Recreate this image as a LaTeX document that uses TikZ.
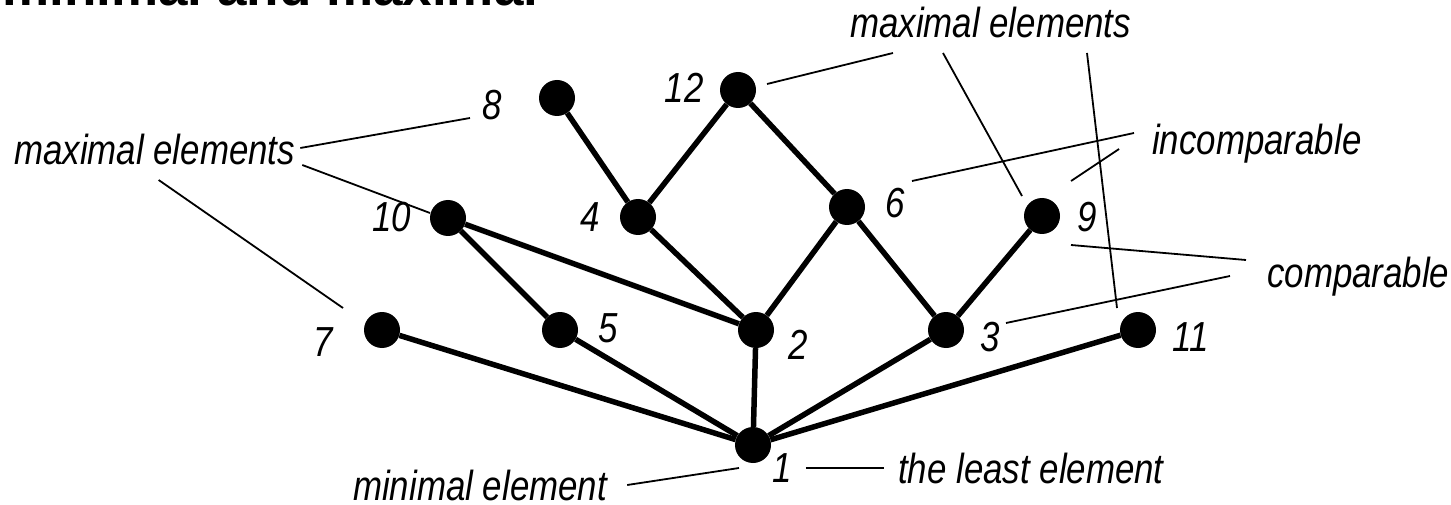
\documentclass[tikz,border=0pt]{standalone}
\usepackage{fontspec}
\setmainfont{Liberation Sans}
\newfontfamily\narrowfont{Liberation Sans}[FakeStretch=0.83]
\usetikzlibrary{positioning}

\tikzset{
  elem/.style={circle, fill=black, minimum size=36pt, inner sep=0pt},
  hasse/.style={line width=5.5pt},
  pointer/.style={line width=1.8pt},
  numlbl/.style={font=\fontsize{42}{42}\selectfont\narrowfont\itshape, inner sep=0pt},
  note/.style={font=\fontsize{42}{42}\selectfont\narrowfont\itshape, inner sep=0pt, anchor=base west},
  headline/.style={font=\fontsize{53}{53}\selectfont\bfseries, inner sep=0pt, anchor=base west}
}

\begin{document}
\begin{tikzpicture}[x=1pt, y=-1pt]
  \useasboundingbox (0,0) rectangle (1451,505);
  % title, cut off by the top edge
  \node[headline] (title) at (2,6) {minimal and maximal};

  % elements of the poset
  \node[elem] (e1) at (753,445) {};
  \node[elem] (e7) at (382,330) {};
  \node[elem] (e5) at (560,330) {};
  \node[elem] (e2) at (756,330) {};
  \node[elem] (e3) at (946,330) {};
  \node[elem] (e11) at (1138,330) {};
  \node[elem] (e10) at (448,218) {};
  \node[elem] (e4) at (638,217) {};
  \node[elem] (e6) at (847,207) {};
  \node[elem] (e9) at (1042,216) {};
  \node[elem] (e8) at (557,98) {};
  \node[elem] (e12) at (738,90) {};

  % covering relation
  \foreach \a/\b in {1/7, 1/5, 1/2, 1/3, 1/11, 2/10, 2/4, 2/6, 5/10, 4/8, 4/12, 6/12, 6/3, 3/9}
    \draw[hasse] (e\a) -- (e\b);

  % numbers
  \node[numlbl] (l1) at (782,468) {1};
  \node[numlbl] (l2) at (798,345) {2};
  \node[numlbl] (l3) at (990,337) {3};
  \node[numlbl] (l4) at (590,217) {4};
  \node[numlbl] (l5) at (608,328) {5};
  \node[numlbl] (l6) at (895,203) {6};
  \node[numlbl] (l7) at (323,342) {7};
  \node[numlbl] (l8) at (492,105) {8};
  \node[numlbl] (l9) at (1087,217) {9};
  \node[numlbl] (l10) at (392,217) {10};
  \node[numlbl] (l11) at (1191,337) {11};
  \node[numlbl] (l12) at (684,88) {12};

  % notes
  \node[note] (maxl) at (14,165) {maximal elements};
  \node[note] (maxt) at (850,38) {maximal elements};
  \node[note] (incomp) at (1152,155) {incomparable};
  \node[note] (comp) at (1267,287) {comparable};
  \node[note] (minel) at (353,500) {minimal element};
  \node[note] (least) at (898,483) {the least element};

  % ends of the pointers
  \coordinate (to8) at (470,118);
  \coordinate (to10) at (430,213);
  \coordinate (to7) at (343,308);
  \coordinate (to12) at (767,84);
  \coordinate (to9a) at (1022,196);
  \coordinate (to11) at (1117,308);
  \coordinate (to6) at (912,181);
  \coordinate (to9b) at (1071,181);
  \coordinate (to9c) at (1071,245);
  \coordinate (to3) at (1006,323);
  \coordinate (to1) at (739,468);

  \draw[pointer] ([shift={(5,-17)}]maxl.base east) -- (to8);
  \draw[pointer] ([shift={(7,0)}]maxl.base east) -- (to10);
  \draw[pointer] ([shift={(4,15)}]maxl.base) -- (to7);
  \draw[pointer] ([shift={(43,15)}]maxt.base west) -- (to12);
  \draw[pointer] ([shift={(93,15)}]maxt.base west) -- (to9a);
  \draw[pointer] ([shift={(237,15)}]maxt.base west) -- (to11);
  \draw[pointer] ([shift={(-18,-22)}]incomp.base west) -- (to6);
  \draw[pointer] ([shift={(-33,-6)}]incomp.base west) -- (to9b);
  \draw[pointer] ([shift={(-21,-27)}]comp.base west) -- (to9c);
  \draw[pointer] ([shift={(-37,-11)}]comp.base west) -- (to3);
  \draw[pointer] ([shift={(20,-15)}]minel.base east) -- (to1);
  \draw[pointer] ([shift={(14,0)}]l1.east) -- ([shift={(-14,-15)}]least.base west);
\end{tikzpicture}
\end{document}
